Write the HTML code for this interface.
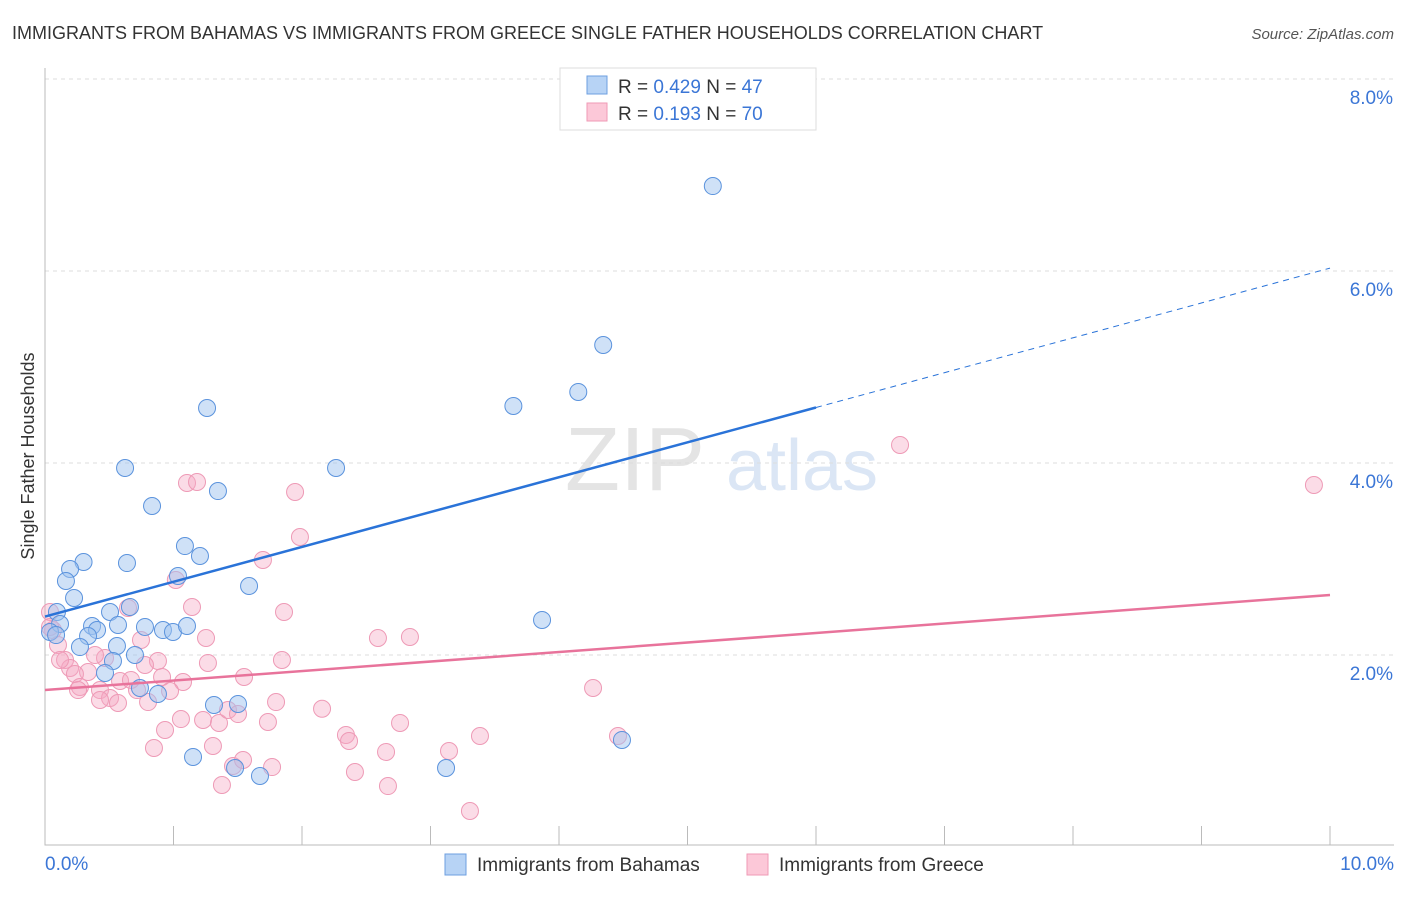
<!DOCTYPE html>
<html><head><meta charset="utf-8"><style>
body{margin:0;background:#fff;font-family:"Liberation Sans",sans-serif;}
svg text{font-family:"Liberation Sans",sans-serif;}
</style></head><body>
<svg id="chart" width="1406" height="892" xmlns="http://www.w3.org/2000/svg">
<text x="12" y="39" font-size="18" fill="#333">IMMIGRANTS FROM BAHAMAS VS IMMIGRANTS FROM GREECE SINGLE FATHER HOUSEHOLDS CORRELATION CHART</text>
<text x="1394" y="39" font-size="15" fill="#555" font-style="italic" text-anchor="end">Source: ZipAtlas.com</text>
<text x="34" y="456" font-size="18" fill="#333" text-anchor="middle" transform="rotate(-90 34 456)">Single Father Households</text>
<g>
<text x="635" y="490" font-size="90" fill="#e4e4e4" text-anchor="middle" font-family="Liberation Serif,serif">ZIP</text>
<text x="802" y="490" font-size="72" fill="#dbe6f5" text-anchor="middle">atlas</text>
</g>
<g id="grid"></g><g id="axes"></g><g id="marks"></g><g id="trends"></g>
<g>
<rect x="560" y="68" width="256" height="62" fill="#fff" stroke="#ddd"/>
<rect x="587" y="76" width="20" height="18" fill="#b7d3f5" stroke="#6d9fe0"/>
<rect x="587" y="103" width="20" height="18" fill="#fcc8d8" stroke="#ef9ab6"/>
<text x="618" y="93" font-size="19" fill="#333">R = <tspan fill="#3b76d6">0.429</tspan>   N = <tspan fill="#3b76d6">47</tspan></text>
<text x="618" y="120" font-size="19" fill="#333">R =  <tspan fill="#3b76d6">0.193</tspan>   N = <tspan fill="#3b76d6">70</tspan></text>
</g>
<g>
<rect x="445" y="854" width="21" height="21" fill="#b7d3f5" stroke="#6d9fe0"/>
<text x="477" y="871" font-size="19" fill="#333">Immigrants from Bahamas</text>
<rect x="747" y="854" width="21" height="21" fill="#fcc8d8" stroke="#ef9ab6"/>
<text x="779" y="871" font-size="19" fill="#333">Immigrants from Greece</text>
</g>
</svg>
<script>
const yTicks=[2,4,6,8];
const yTickLabels=["2.0%","4.0%","6.0%","8.0%"];
const xTickLabels=["0.0%","10.0%"];
const bahamasX=[5.197,4.344,4.15,3.645,1.261,2.265,0.623,1.346,0.833,1.089,1.206,0.3,0.638,0.195,0.163,1.035,1.588,0.226,0.093,0.506,0.661,3.868,0.117,0.366,0.568,0.405,0.335,0.778,0.918,0.996,1.105,0.039,0.086,0.272,0.56,0.7,0.529,0.467,0.739,0.879,1.315,1.502,1.152,1.479,1.673,3.121,4.49];
const bahamasY=[6.885,5.229,4.74,4.594,4.573,3.948,3.948,3.708,3.552,3.135,3.031,2.969,2.958,2.896,2.771,2.823,2.719,2.594,2.448,2.448,2.5,2.365,2.323,2.302,2.313,2.26,2.198,2.292,2.26,2.24,2.302,2.24,2.208,2.083,2.094,2.0,1.938,1.813,1.656,1.594,1.479,1.49,0.938,0.823,0.74,0.823,1.115];
const greeceX=[6.654,9.875,1.105,1.183,1.946,1.984,1.696,1.018,1.144,0.646,1.86,0.039,0.062,0.101,0.747,1.253,2.591,2.84,0.156,0.195,0.335,0.467,0.879,1.268,1.844,0.389,0.233,0.272,0.584,0.778,0.911,1.074,1.549,0.257,0.428,0.506,0.568,0.669,0.716,0.802,0.973,1.798,2.156,4.265,1.058,1.23,1.354,1.424,1.502,1.735,2.763,2.342,2.366,3.385,4.459,0.848,1.307,2.654,3.144,1.463,1.541,1.767,2.412,1.377,2.669,3.307,0.039,0.117,0.428,0.934];
const greeceY=[4.188,3.771,3.792,3.802,3.698,3.229,2.99,2.781,2.5,2.49,2.448,2.448,2.26,2.104,2.156,2.177,2.177,2.188,1.948,1.865,1.823,1.969,1.938,1.917,1.948,2.0,1.802,1.667,1.729,1.896,1.771,1.719,1.771,1.635,1.635,1.552,1.5,1.74,1.635,1.51,1.625,1.51,1.44,1.656,1.333,1.323,1.292,1.427,1.385,1.302,1.292,1.167,1.104,1.156,1.156,1.031,1.052,0.99,1.0,0.844,0.906,0.833,0.781,0.646,0.635,0.375,2.292,1.948,1.531,1.219];
const bahamasTrend=[2.40,6.03];
const greeceTrend=[1.635,2.625];
const NS="http://www.w3.org/2000/svg";
const X0=45,X1=1330,Y0=847,PY=96;
function sx(v){return X0+(X1-X0)*v/10;}
function sy(v){return Y0-v*PY;}
function mk(tag,attrs,parent){const e=document.createElementNS(NS,tag);for(const k in attrs)e.setAttribute(k,attrs[k]);parent.appendChild(e);return e;}
const grid=document.getElementById('grid'),axes=document.getElementById('axes'),marks=document.getElementById('marks'),trends=document.getElementById('trends');
yTicks.forEach((t,i)=>{
 const l=mk('line',{x1:X0,x2:1394,y1:sy(t),y2:sy(t),stroke:'#ddd','stroke-dasharray':'4,4'},grid);
 
 
 const tx=mk('text',{x:1393,y:sy(t)+25,'font-size':19,fill:'#3b76d6','text-anchor':'end'},axes);
 tx.textContent=yTickLabels[i];
 
 
});
const ax=mk('path',{d:`M${X0} 68V845H1394`,stroke:'#bbb',fill:'none'},axes);


for(let i=1;i<=10;i++){
 const t=mk('line',{x1:sx(i),x2:sx(i),y1:826,y2:845,stroke:'#bbb'},axes);
 
 
}
[[0,'start',45],[10,'end',1394]].forEach((d,i)=>{
 const tx=mk('text',{x:d[2],y:870,'font-size':19,fill:'#3b76d6','text-anchor':d[1]},axes);
 tx.textContent=xTickLabels[i];
 
 
});
function pts(xs,ys,fill,stroke,name){
 xs.forEach((x,i)=>{
  const c=mk('circle',{cx:sx(x),cy:sy(ys[i]),r:8.5,fill:fill,stroke:stroke,'stroke-width':1},marks);
  
  
 });
}
pts(greeceX,greeceY,'rgba(246,168,194,0.4)','#ee9ab6','greece-point');
pts(bahamasX,bahamasY,'rgba(160,196,240,0.5)','#5b93dd','bahamas-point');
const bAt=x=>bahamasTrend[0]+(bahamasTrend[1]-bahamasTrend[0])*x/10;
let l=mk('line',{x1:sx(0),y1:sy(bAt(0)),x2:sx(6),y2:sy(bAt(6)),stroke:'#2a73d8','stroke-width':2.5},trends);


l=mk('line',{x1:sx(6),y1:sy(bAt(6)),x2:sx(10),y2:sy(bAt(10)),stroke:'#2a73d8','stroke-width':1,'stroke-dasharray':'6,5'},trends);


l=mk('line',{x1:sx(0),y1:sy(greeceTrend[0]),x2:sx(10),y2:sy(greeceTrend[1]),stroke:'#e8739b','stroke-width':2.5},trends);


</script>
</body></html>
